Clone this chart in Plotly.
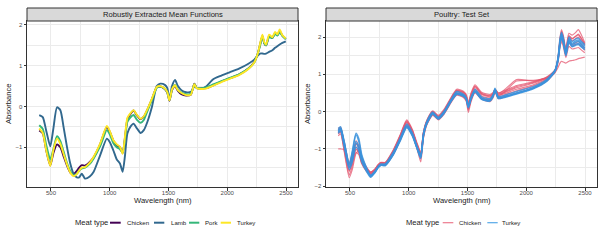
import plotly.graph_objects as go

# ---------------- data: left panel (robust mean functions) ----------------
wl_left = [400, 430, 460, 494, 520, 551, 580, 607, 636, 664, 692, 720, 740, 763, 790,
           830, 862, 918, 975, 1000, 1031, 1060, 1087, 1110, 1130, 1150, 1175, 1203, 1230, 1263,
           1290, 1320, 1360, 1400, 1430, 1469, 1490, 1508, 1530, 1556, 1580, 1610, 1650, 1690, 1706,
           1720, 1740, 1780, 1820, 1880, 1950, 2020, 2100, 2180, 2230, 2260, 2280, 2299, 2315, 2330,
           2356, 2384, 2407, 2426, 2446, 2469, 2498]

chicken_mean = [-0.59, -0.66, -1.08, -1.45, -1.15, -0.93, -1.00, -1.22, -1.45, -1.62,
                -1.66, -1.58, -1.50, -1.44, -1.45, -1.36, -1.25, -0.93, -0.50, -0.62,
                -0.84, -0.95, -1.00, -1.15, -0.76, -0.32, -0.19, -0.10, -0.21, -0.31,
                -0.25, -0.08, 0.19, 0.47, 0.49, 0.43, 0.34, 0.14, 0.40, 0.50,
                0.38, 0.30, 0.27, 0.29, 0.43, 0.56, 0.46, 0.44, 0.45, 0.52,
                0.61, 0.69, 0.78, 0.93, 1.09, 1.30, 1.53, 1.73, 1.55, 1.50,
                1.72, 1.68, 1.80, 1.75, 1.85, 1.74, 1.66]
lamb_mean = [-0.21, -0.26, -0.60, -0.98, -0.55, -0.02, -0.09, -0.50, -0.99, -1.40,
             -1.65, -1.74, -1.74, -1.65, -1.77, -1.72, -1.61, -1.20, -0.79, -0.87,
             -1.08, -1.30, -1.40, -1.60, -1.20, -0.66, -0.50, -0.42, -0.53, -0.65,
             -0.58, -0.38, 0.00, 0.50, 0.56, 0.53, 0.45, 0.17, 0.50, 0.65,
             0.50, 0.40, 0.35, 0.36, 0.42, 0.50, 0.45, 0.44, 0.49, 0.67,
             0.76, 0.84, 0.93, 1.05, 1.15, 1.25, 1.30, 1.30, 1.29, 1.30,
             1.34, 1.38, 1.44, 1.48, 1.52, 1.56, 1.60]
pork_mean = [-0.46, -0.55, -0.95, -1.30, -1.05, -0.73, -0.85, -1.10, -1.38, -1.58,
             -1.69, -1.65, -1.57, -1.52, -1.50, -1.41, -1.28, -0.98, -0.58, -0.68,
             -0.90, -1.00, -1.05, -1.13, -0.80, -0.38, -0.27, -0.21, -0.32, -0.40,
             -0.33, -0.12, 0.17, 0.46, 0.49, 0.43, 0.35, 0.15, 0.42, 0.53,
             0.41, 0.34, 0.30, 0.31, 0.43, 0.55, 0.46, 0.45, 0.47, 0.54,
             0.62, 0.70, 0.79, 0.93, 1.08, 1.30, 1.50, 1.72, 1.55, 1.50,
             1.70, 1.68, 1.78, 1.74, 1.82, 1.73, 1.65]
turkey_mean = [-0.54, -0.65, -1.08, -1.46, -1.08, -0.79, -0.92, -1.16, -1.42, -1.62,
               -1.71, -1.66, -1.57, -1.50, -1.49, -1.38, -1.24, -0.91, -0.48, -0.60,
               -0.83, -0.93, -0.99, -1.16, -0.72, -0.28, -0.17, -0.09, -0.20, -0.30,
               -0.24, -0.07, 0.20, 0.48, 0.50, 0.44, 0.35, 0.15, 0.42, 0.52,
               0.40, 0.33, 0.28, 0.29, 0.42, 0.55, 0.45, 0.43, 0.44, 0.51,
               0.60, 0.68, 0.77, 0.92, 1.08, 1.30, 1.55, 1.76, 1.58, 1.52,
               1.76, 1.70, 1.83, 1.77, 1.89, 1.75, 1.67]

left_names = ["Chicken", "Lamb", "Pork", "Turkey"]
left_series = [chicken_mean, lamb_mean, pork_mean, turkey_mean]
left_colors = ["#440154", "#31688E", "#35B779", "#FDE725"]

# ---------------- data: right panel (poultry test set) ----------------
wl_right = [400, 420, 450, 494, 520, 551, 575, 600, 640, 676, 710, 740, 763, 800, 869,
            930, 983, 1030, 1068, 1102, 1125, 1153, 1204, 1252, 1300, 1360, 1408, 1465, 1490, 1507,
            1530, 1564, 1620, 1691, 1720, 1734, 1762, 1805, 1918, 2060, 2174, 2245, 2270, 2287, 2300,
            2315, 2337, 2363, 2390, 2420, 2443, 2470, 2498]

chicken_test = [
    [-0.45, -0.42, -0.80, -1.38, -1.15, -0.78, -0.90, -1.22, -1.48, -1.62,
     -1.55, -1.42, -1.36, -1.36, -1.02, -0.60, -0.22, -0.47, -0.82, -1.08,
     -0.55, -0.24, 0.02, -0.10, 0.06, 0.38, 0.60, 0.55, 0.45, 0.25,
     0.50, 0.72, 0.52, 0.46, 0.52, 0.60, 0.50, 0.55, 0.70, 0.80,
     0.93, 1.12, 1.45, 1.98, 2.20, 2.05, 1.70, 2.10, 2.05, 2.12,
     2.20, 2.05, 1.85],
    [-0.55, -0.50, -0.90, -1.50, -1.30, -0.95, -1.05, -1.32, -1.55, -1.66,
     -1.58, -1.45, -1.38, -1.40, -1.08, -0.66, -0.30, -0.54, -0.88, -1.15,
     -0.60, -0.29, -0.03, -0.16, 0.00, 0.32, 0.53, 0.47, 0.37, 0.13,
     0.38, 0.60, 0.42, 0.37, 0.47, 0.60, 0.44, 0.47, 0.60, 0.72,
     0.88, 1.10, 1.40, 1.88, 2.10, 1.95, 1.60, 1.98, 1.90, 1.95,
     2.00, 1.90, 1.78],
    [-0.65, -0.60, -1.02, -1.70, -1.45, -1.10, -1.15, -1.40, -1.60, -1.70,
     -1.60, -1.48, -1.42, -1.44, -1.15, -0.75, -0.40, -0.63, -0.97, -1.25,
     -0.70, -0.36, -0.10, -0.22, -0.07, 0.24, 0.44, 0.38, 0.27, -0.02,
     0.27, 0.50, 0.33, 0.27, 0.38, 0.52, 0.35, 0.38, 0.50, 0.64,
     0.82, 1.06, 1.32, 1.72, 1.88, 1.75, 1.45, 1.75, 1.68, 1.70,
     1.72, 1.65, 1.58],
    [-1.00, -1.00, -1.02, -1.60, -1.35, -1.00, -1.10, -1.38, -1.58, -1.68,
     -1.58, -1.46, -1.40, -1.42, -1.12, -0.72, -0.36, -0.60, -0.95, -1.35,
     -0.72, -0.35, -0.08, -0.20, -0.05, 0.26, 0.46, 0.40, 0.30, 0.05,
     0.30, 0.52, 0.36, 0.32, 0.45, 0.58, 0.43, 0.50, 0.82, 0.84,
     0.90, 1.05, 1.18, 1.30, 1.35, 1.33, 1.30, 1.35, 1.37, 1.39,
     1.42, 1.44, 1.46],
    [-0.60, -0.55, -1.05, -1.77, -1.55, -1.12, -1.05, -1.30, -1.52, -1.62,
     -1.55, -1.42, -1.37, -1.37, -1.04, -0.62, -0.25, -0.50, -0.85, -1.12,
     -0.57, -0.26, 0.00, -0.13, 0.03, 0.35, 0.57, 0.52, 0.42, 0.20,
     0.45, 0.68, 0.48, 0.42, 0.50, 0.60, 0.50, 0.56, 0.86, 0.82,
     0.90, 1.10, 1.42, 1.92, 2.15, 2.00, 1.65, 2.02, 1.95, 2.02,
     2.08, 1.95, 1.80],
    [-0.50, -0.46, -0.86, -1.45, -1.22, -0.88, -0.98, -1.28, -1.52, -1.64,
     -1.56, -1.44, -1.37, -1.38, -1.06, -0.64, -0.28, -0.52, -0.86, -1.12,
     -0.58, -0.27, -0.01, -0.14, 0.02, 0.34, 0.55, 0.50, 0.40, 0.17,
     0.42, 0.64, 0.46, 0.40, 0.48, 0.58, 0.46, 0.50, 0.64, 0.76,
     0.90, 1.10, 1.38, 1.80, 2.00, 1.86, 1.55, 1.88, 1.80, 1.84,
     1.88, 1.80, 1.70],
    [-0.48, -0.44, -0.84, -1.42, -1.20, -0.85, -0.95, -1.25, -1.50, -1.63,
     -1.56, -1.43, -1.37, -1.37, -1.05, -0.63, -0.27, -0.51, -0.85, -1.11,
     -0.57, -0.26, 0.00, -0.12, 0.03, 0.36, 0.57, 0.52, 0.42, 0.21,
     0.46, 0.67, 0.49, 0.43, 0.50, 0.59, 0.48, 0.52, 0.67, 0.78,
     0.92, 1.11, 1.42, 1.90, 2.12, 1.98, 1.62, 2.04, 1.96, 2.02,
     2.06, 1.96, 1.82],
    [-0.58, -0.53, -0.95, -1.58, -1.38, -1.02, -1.08, -1.35, -1.57, -1.67,
     -1.59, -1.46, -1.40, -1.42, -1.11, -0.70, -0.34, -0.58, -0.92, -1.19,
     -0.64, -0.32, -0.06, -0.18, -0.03, 0.29, 0.49, 0.43, 0.33, 0.07,
     0.33, 0.56, 0.38, 0.33, 0.43, 0.56, 0.40, 0.43, 0.56, 0.69,
     0.86, 1.08, 1.36, 1.78, 1.96, 1.83, 1.52, 1.84, 1.76, 1.80,
     1.82, 1.75, 1.64],
]

turkey_test = [
    [-0.52, -0.45, -0.85, -1.48, -1.25, -0.80, -0.95, -1.28, -1.55, -1.72,
     -1.62, -1.48, -1.42, -1.42, -1.12, -0.72, -0.38, -0.60, -0.93, -1.20,
     -0.62, -0.30, -0.04, -0.18, -0.02, 0.30, 0.50, 0.44, 0.35, 0.14,
     0.36, 0.56, 0.36, 0.31, 0.45, 0.60, 0.38, 0.40, 0.50, 0.64,
     0.84, 1.10, 1.40, 1.85, 2.05, 1.90, 1.55, 1.92, 1.80, 1.86,
     1.88, 1.80, 1.72],
    [-0.45, -0.40, -0.78, -1.40, -1.10, -0.62, -0.80, -1.20, -1.52, -1.70,
     -1.60, -1.46, -1.40, -1.40, -1.08, -0.68, -0.33, -0.56, -0.90, -1.15,
     -0.58, -0.27, -0.01, -0.15, 0.01, 0.33, 0.54, 0.47, 0.38, 0.18,
     0.39, 0.60, 0.40, 0.35, 0.48, 0.63, 0.41, 0.43, 0.54, 0.67,
     0.87, 1.12, 1.45, 1.95, 2.12, 1.98, 1.60, 2.00, 1.88, 1.95,
     1.97, 1.88, 1.80],
    [-0.58, -0.52, -0.92, -1.55, -1.35, -0.95, -1.05, -1.35, -1.60, -1.76,
     -1.65, -1.50, -1.44, -1.45, -1.16, -0.77, -0.43, -0.65, -0.97, -1.26,
     -0.67, -0.34, -0.07, -0.20, -0.05, 0.27, 0.46, 0.41, 0.32, 0.10,
     0.33, 0.53, 0.33, 0.28, 0.42, 0.57, 0.35, 0.37, 0.47, 0.61,
     0.81, 1.08, 1.35, 1.78, 1.98, 1.83, 1.50, 1.85, 1.74, 1.78,
     1.80, 1.73, 1.66],
    [-0.50, -0.44, -0.80, -1.42, -1.05, -0.58, -0.72, -1.15, -1.50, -1.74,
     -1.63, -1.50, -1.43, -1.43, -1.13, -0.73, -0.40, -0.62, -0.95, -1.22,
     -0.64, -0.32, -0.05, -0.19, -0.03, 0.29, 0.49, 0.43, 0.34, 0.13,
     0.35, 0.55, 0.35, 0.30, 0.44, 0.59, 0.37, 0.39, 0.49, 0.63,
     0.83, 1.10, 1.42, 1.88, 2.08, 1.93, 1.57, 1.95, 1.83, 1.90,
     1.92, 1.84, 1.76],
    [-0.55, -0.48, -0.88, -1.50, -1.28, -0.85, -0.98, -1.30, -1.57, -1.73,
     -1.63, -1.49, -1.43, -1.43, -1.14, -0.74, -0.40, -0.62, -0.95, -1.22,
     -0.64, -0.31, -0.05, -0.19, -0.03, 0.28, 0.48, 0.43, 0.33, 0.12,
     0.34, 0.54, 0.34, 0.30, 0.44, 0.59, 0.37, 0.39, 0.49, 0.63,
     0.83, 1.09, 1.38, 1.80, 2.00, 1.86, 1.52, 1.88, 1.76, 1.81,
     1.83, 1.76, 1.69],
]

right_names = ["Chicken", "Turkey"]
right_colors = ["#E5566F", "#3A93DD"]
right_key_colors = ["#EC7A8E", "#56A9E8"]

x_ticks = [500, 1000, 1500, 2000, 2500]
panel_titles = ["Robustly Extracted Mean Functions", "Poultry: Test Set"]
x_title = "Wavelength (nm)"
y_title = "Absorbance"
legend_title = "Meat type"

# ---------------- figure ----------------
FONT = "Liberation Sans, Arial, sans-serif"
W, H = 605, 240
# target pixel geometry of the panels
PL, PR, PT, PB = 27, 597, 21, 187
ML, MT = PL, PT
MR = W - PR
MB = H - PB
PW, PH = W - ML - MR, H - MT - MB


def px2x(px):
    return (px - PL) / PW


def px2y(py):
    return (PB - py) / PH


dom1 = [0, px2x(298)]
dom2 = [px2x(326), 1]

fig = go.Figure()

for name, vals, col in zip(left_names, left_series, left_colors):
    fig.add_trace(go.Scatter(x=wl_left, y=vals, mode="lines", name=name,
                             line=dict(color=col, width=1.9, shape="spline", smoothing=0.6),
                             xaxis="x", yaxis="y", showlegend=False, hoverinfo="skip"))

for curve in chicken_test:
    fig.add_trace(go.Scatter(x=wl_right, y=curve, mode="lines", name="Chicken",
                             line=dict(color=right_colors[0], width=1.2, shape="spline", smoothing=0.6),
                             opacity=0.75, xaxis="x2", yaxis="y2", showlegend=False, hoverinfo="skip"))
for curve in turkey_test:
    fig.add_trace(go.Scatter(x=wl_right, y=curve, mode="lines", name="Turkey",
                             line=dict(color=right_colors[1], width=1.4, shape="spline", smoothing=0.6),
                             opacity=0.85, xaxis="x2", yaxis="y2", showlegend=False, hoverinfo="skip"))

tickfont = dict(family=FONT, size=6, color="#4D4D4D")
common = dict(showgrid=True, gridcolor="#EBEBEB", gridwidth=0.9, zeroline=False,
              showline=True, linecolor="#333333", linewidth=1, mirror=True,
              ticks="outside", ticklen=2.5, tickwidth=0.8, tickcolor="#333333",
              tickfont=tickfont, automargin=False)

xcommon = dict(common, tickvals=x_ticks, range=[296, 2602], ticklabelstandoff=-3,
               minor=dict(tickvals=[750, 1250, 1750, 2250], showgrid=True,
                          gridcolor="#EBEBEB", gridwidth=0.5))

fig.update_layout(
    template="none",
    width=W, height=H,
    margin=dict(l=ML, r=MR, t=MT, b=MB, pad=0),
    paper_bgcolor="white", plot_bgcolor="white",
    font=dict(family=FONT, color="#1A1A1A"),
    showlegend=False,
    xaxis=dict(xcommon, domain=dom1, anchor="y"),
    yaxis=dict(common, domain=[0, 1], anchor="x", range=[-1.976, 2.098],
               tickvals=[-1, 0, 1, 2],
               minor=dict(tickvals=[-1.5, -0.5, 0.5, 1.5], showgrid=True,
                          gridcolor="#EBEBEB", gridwidth=0.5)),
    xaxis2=dict(xcommon, domain=dom2, anchor="y2"),
    yaxis2=dict(common, domain=[0, 1], anchor="x2", range=[-2.02, 2.43],
                tickvals=[-2, -1, 0, 1, 2],
                minor=dict(tickvals=[-1.5, -0.5, 0.5, 1.5], showgrid=True,
                           gridcolor="#EBEBEB", gridwidth=0.5)),
)

shapes = []
annotations = []

# strips
for dom, title in zip([dom1, dom2], panel_titles):
    shapes.append(dict(type="rect", xref="paper", yref="paper", x0=dom[0], x1=dom[1],
                       y0=1, y1=px2y(8), fillcolor="#D9D9D9",
                       line=dict(color="#333333", width=1), layer="above"))
    annotations.append(dict(text=title, xref="paper", yref="paper", x=(dom[0] + dom[1]) / 2,
                            y=px2y(14.5), showarrow=False, xanchor="center", yanchor="middle",
                            font=dict(family=FONT, size=7.6, color="#1A1A1A")))
    annotations.append(dict(text=x_title, xref="paper", yref="paper", x=(dom[0] + dom[1]) / 2,
                            y=px2y(200.5), showarrow=False, xanchor="center", yanchor="middle",
                            font=dict(family=FONT, size=7.6, color="#1A1A1A")))

for xpx in [8, 307]:
    annotations.append(dict(text=y_title, xref="paper", yref="paper", x=px2x(xpx), y=0.5,
                            showarrow=False, textangle=-90, xanchor="center", yanchor="middle",
                            font=dict(family=FONT, size=7.6, color="#1A1A1A")))

# legends (manual, ggplot style)
LEG_Y = px2y(222.7)


def add_legend(title_px, keys_px, label_px, names, colors, key_width):
    annotations.append(dict(text=legend_title, xref="paper", yref="paper", x=px2x(title_px),
                            y=LEG_Y, showarrow=False, xanchor="left", yanchor="middle",
                            font=dict(family=FONT, size=7.6, color="#1A1A1A")))
    for (k0, k1), lp, nm, col in zip(keys_px, label_px, names, colors):
        shapes.append(dict(type="line", xref="paper", yref="paper", x0=px2x(k0), x1=px2x(k1),
                           y0=LEG_Y, y1=LEG_Y, line=dict(color=col, width=key_width)))
        annotations.append(dict(text=nm, xref="paper", yref="paper", x=px2x(lp), y=LEG_Y,
                                showarrow=False, xanchor="left", yanchor="middle",
                                font=dict(family=FONT, size=6.1, color="#1A1A1A")))


add_legend(72.7, [(110, 120.7), (154, 164.3), (189, 199.3), (220.7, 231)],
           [125.2, 168.5, 202.8, 234.5], left_names, left_colors, 2)
add_legend(404.3, [(442.7, 453.3), (487.3, 497.7)], [457.2, 499.5],
           right_names, right_key_colors, 1.2)

fig.update_layout(shapes=shapes, annotations=annotations)

# remove the browser's default page margin so the figure sits at the window origin
fig.write_html("out.html", config={"displayModeBar": False},
               post_script="document.body.style.margin='0';")
